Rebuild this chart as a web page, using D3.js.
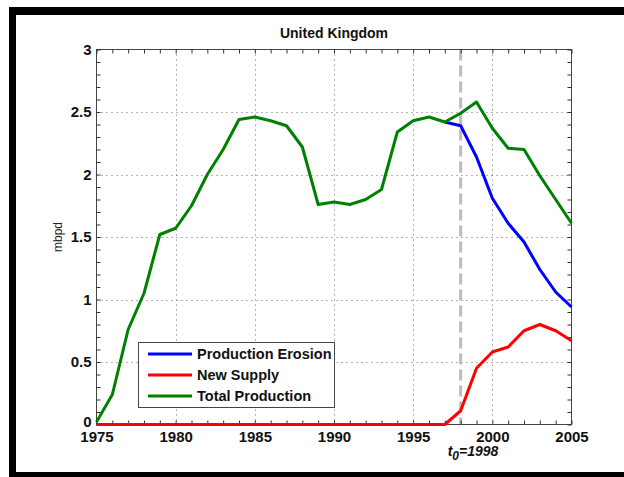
<!DOCTYPE html>
<html>
<head>
<meta charset="utf-8">
<script src="https://cdn.jsdelivr.net/npm/d3@7"></script>
<style>
  html, body { margin: 0; padding: 0; background: #fff; }
  svg { display: block; }
  text { font-family: "Liberation Sans", Arial, Helvetica, sans-serif; }
</style>
</head>
<body>
<svg id="chart" width="624" height="477"></svg>
<script>
// United Kingdom oil production, million barrels per day
const years = d3.range(1975, 2006);
const totalProduction = [
  0.02, 0.24, 0.76, 1.05, 1.52, 1.57, 1.75, 2.00, 2.20, 2.44,
  2.46, 2.43, 2.39, 2.22, 1.76, 1.78, 1.76, 1.80, 1.88, 2.34,
  2.43, 2.46, 2.42, 2.49, 2.58, 2.37, 2.21, 2.20, 1.99, 1.80, 1.61
];
const erosionYears = d3.range(1997, 2006);
const productionErosion = [2.42, 2.39, 2.14, 1.81, 1.61, 1.46, 1.24, 1.06, 0.94];
const newSupply = [
  0, 0, 0, 0, 0, 0, 0, 0, 0, 0,
  0, 0, 0, 0, 0, 0, 0, 0, 0, 0,
  0, 0, 0, 0.11, 0.45, 0.58, 0.62, 0.75, 0.80, 0.75, 0.67
];
const xTicks = [1975, 1980, 1985, 1990, 1995, 2000, 2005];
const yTicks = [0, 0.5, 1, 1.5, 2, 2.5, 3];
const t0 = 1998;
const seriesNames = ["Production Erosion", "New Supply", "Total Production"];
const seriesColors = ["#0000ff", "#ff0000", "#008000"];

const svg = d3.select("#chart");

// outer frame (left, top and bottom bars)
svg.append("rect").attr("x", 9).attr("y", 7).attr("width", 615).attr("height", 8).attr("fill", "#000");
svg.append("rect").attr("x", 9).attr("y", 7).attr("width", 7).attr("height", 470).attr("fill", "#000");
svg.append("rect").attr("x", 9).attr("y", 472).attr("width", 615).attr("height", 5).attr("fill", "#000");

const plotLeft = 96.5, plotRight = 571.5, plotTop = 49.5, plotBottom = 424.5;
const x = d3.scaleLinear().domain([1975, 2005]).range([plotLeft, plotRight]);
const y = d3.scaleLinear().domain([0, 3]).range([plotBottom, plotTop]);

const g = svg.append("g");

// dotted grid at major ticks
g.selectAll(".gx").data(xTicks.slice(1, -1)).join("line")
  .attr("x1", d => Math.round(x(d)) + 0.5).attr("x2", d => Math.round(x(d)) + 0.5)
  .attr("y1", plotTop).attr("y2", plotBottom)
  .attr("stroke", "#666").attr("stroke-width", 1).attr("stroke-dasharray", "1,4");
g.selectAll(".gy").data(yTicks.slice(1, -1)).join("line")
  .attr("y1", d => Math.round(y(d)) + 0.5).attr("y2", d => Math.round(y(d)) + 0.5)
  .attr("x1", plotLeft).attr("x2", plotRight)
  .attr("stroke", "#666").attr("stroke-width", 1).attr("stroke-dasharray", "1,4");

// t0 marker
g.append("line")
  .attr("x1", x(t0)).attr("x2", x(t0)).attr("y1", plotTop).attr("y2", plotBottom)
  .attr("stroke", "#bbbbbb").attr("stroke-width", 3).attr("stroke-dasharray", "11,5");

// plot box
g.append("rect").attr("x", plotLeft).attr("y", plotTop)
  .attr("width", plotRight - plotLeft).attr("height", plotBottom - plotTop)
  .attr("fill", "none").attr("stroke", "#444").attr("stroke-width", 1);

// axes with inward ticks on all four sides
const minorX = d3.range(1975, 2006);
const minorY = d3.range(0, 31).map(d => d / 10);
const tickLen = 4;
function drawTicks(axis, offsetX, offsetY) {
  const a = g.append("g").attr("transform", `translate(${offsetX},${offsetY})`).call(axis);
  a.select(".domain").remove();
  a.selectAll("line").attr("stroke", "#333");
  a.selectAll("text").remove();
}
drawTicks(d3.axisBottom(x).tickValues(minorX).tickSize(-tickLen), 0, plotBottom);
drawTicks(d3.axisTop(x).tickValues(minorX).tickSize(-tickLen), 0, plotTop);
drawTicks(d3.axisLeft(y).tickValues(minorY).tickSize(-tickLen), plotLeft, 0);
drawTicks(d3.axisRight(y).tickValues(minorY).tickSize(-tickLen), plotRight, 0);

// tick labels
const xAxis = g.append("g").attr("transform", `translate(0,${plotBottom})`)
  .call(d3.axisBottom(x).tickValues(xTicks).tickFormat(d3.format("d")).tickSize(0).tickPadding(7));
xAxis.select(".domain").remove();
xAxis.selectAll("text").attr("font-size", 15).attr("font-weight", "bold").attr("fill", "#111")
  .attr("font-family", "Liberation Sans, Arial, sans-serif");

const yAxis = g.append("g").attr("transform", `translate(${plotLeft},0)`)
  .call(d3.axisLeft(y).tickValues(yTicks).tickFormat(d => String(d)).tickSize(0).tickPadding(5));
yAxis.select(".domain").remove();
yAxis.selectAll("text").attr("font-size", 15).attr("font-weight", "bold").attr("fill", "#111")
  .attr("font-family", "Liberation Sans, Arial, sans-serif");
// keep the "0" label clear of the first year label
yAxis.selectAll("text").filter(d => d === 0).attr("dy", "0.1em");

// series
const line = d3.line().x(d => x(d[0])).y(d => y(d[1]));
const seriesData = [
  d3.zip(erosionYears, productionErosion),
  d3.zip(years, newSupply),
  d3.zip(years, totalProduction)
];
g.selectAll(".series").data(seriesData).join("path")
  .attr("d", line)
  .attr("fill", "none")
  .attr("stroke", (d, i) => seriesColors[i])
  .attr("stroke-width", 3)
  .attr("stroke-linejoin", "round");

// title
svg.append("text").attr("x", (plotLeft + plotRight) / 2).attr("y", 38)
  .attr("text-anchor", "middle").attr("font-size", 14).attr("font-weight", "bold")
  .attr("fill", "#111").text("United Kingdom");

// y label
svg.append("text").attr("transform", `translate(62,${(plotTop + plotBottom) / 2}) rotate(-90)`)
  .attr("text-anchor", "middle").attr("font-size", 12).attr("fill", "#222").text("mbpd");

// t0 label
const tl = svg.append("text").attr("x", x(t0) - 13).attr("y", 456).attr("text-anchor", "start")
  .attr("font-size", 14).attr("font-weight", "bold").attr("font-style", "italic").attr("fill", "#111");
tl.append("tspan").text("t");
tl.append("tspan").attr("dy", 4).attr("font-size", 12).text("0");
tl.append("tspan").attr("dy", -4).text("=" + t0);

// legend
const lg = svg.append("g");
lg.append("rect").attr("x", 138.5).attr("y", 342.5).attr("width", 196).attr("height", 65)
  .attr("fill", "#fff").attr("stroke", "#444").attr("stroke-width", 1);
const rows = lg.selectAll(".row").data(seriesNames).join("g")
  .attr("transform", (d, i) => `translate(0,${354 + i * 21})`);
rows.append("line").attr("x1", 148).attr("x2", 192).attr("y1", 0).attr("y2", 0)
  .attr("stroke", (d, i) => seriesColors[i]).attr("stroke-width", 3);
rows.append("text").attr("x", 197).attr("y", 5).attr("font-size", 14.5).attr("font-weight", "bold")
  .attr("fill", "#111").text(d => d);
</script>
</body>
</html>
